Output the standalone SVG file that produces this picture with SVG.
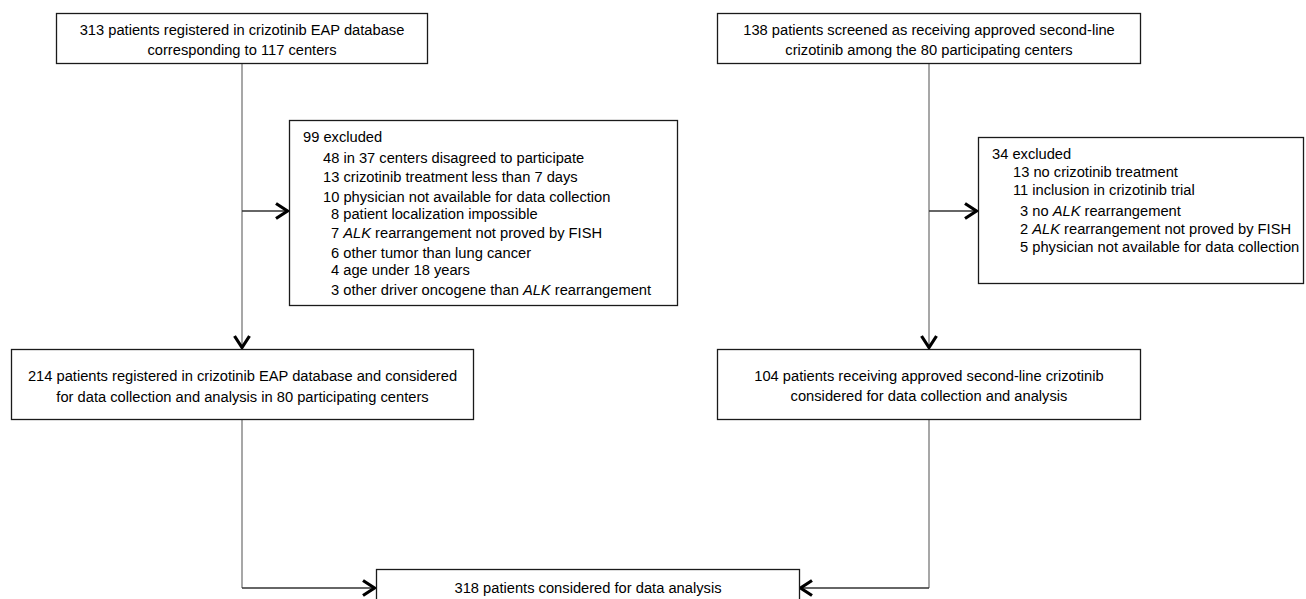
<svg xmlns="http://www.w3.org/2000/svg" width="1306" height="599" viewBox="0 0 1306 599">
<style>
.box{fill:#fff;stroke:#1a1a1a;stroke-width:1.3}
text{font-family:"Liberation Sans",Arial,sans-serif;font-size:14.7px;fill:#000}
.c{text-anchor:middle}
.i{font-style:italic}
.v{fill:none;stroke:#8a8a8a;stroke-width:1.5}
.h{fill:none;stroke:#333;stroke-width:1.5}
</style>
<defs>
<marker id="arr" markerUnits="userSpaceOnUse" markerWidth="16" markerHeight="20" viewBox="0 0 16 20" refX="14" refY="10" orient="auto">
<path d="M2,2.5 L13.5,10 L2,17.5" fill="none" stroke="#000" stroke-width="3.2" stroke-linejoin="miter"/>
</marker>
</defs>
<rect width="1306" height="599" fill="#fff"/>
<g id="connectors">
<path class="v" d="M242,63 V348" marker-end="url(#arr)"/>
<path class="h" d="M242,211 H288" marker-end="url(#arr)"/>
<path class="v" d="M929,63 V348" marker-end="url(#arr)"/>
<path class="h" d="M929,211 H977" marker-end="url(#arr)"/>
<path class="v" d="M242,420 V588"/>
<path class="h" d="M242,588 H375" marker-end="url(#arr)"/>
<path class="v" d="M929,420 V588"/>
<path class="h" d="M929,588 H800" marker-end="url(#arr)"/>
</g>
<g id="n313">
<rect class="box" x="56.5" y="13.5" width="371" height="50"/>
<text class="c" x="242" y="35">313 patients registered in crizotinib EAP database</text>
<text class="c" x="242" y="55">corresponding to 117 centers</text>
</g>
<g id="n138">
<rect class="box" x="717.5" y="13.5" width="423" height="50"/>
<text class="c" x="929" y="35">138 patients screened as receiving approved second-line</text>
<text class="c" x="929" y="55">crizotinib among the 80 participating centers</text>
</g>
<g id="n99">
<rect class="box" x="289.5" y="120.5" width="388" height="185"/>
<text x="303" y="142">99 excluded</text>
<text x="323" y="163">48 in 37 centers disagreed to participate</text>
<text x="323" y="182">13 crizotinib treatment less than 7 days</text>
<text x="323" y="202">10 physician not available for data collection</text>
<text x="331" y="219">8 patient localization impossible</text>
<text x="331" y="238">7 <tspan class="i">ALK</tspan> rearrangement not proved by FISH</text>
<text x="331" y="258">6 other tumor than lung cancer</text>
<text x="331" y="275">4 age under 18 years</text>
<text x="331" y="295">3 other driver oncogene than <tspan class="i">ALK</tspan> rearrangement</text>
</g>
<g id="n34">
<rect class="box" x="978.5" y="137.5" width="325" height="146"/>
<text x="992" y="159">34 excluded</text>
<text x="1013" y="177">13 no crizotinib treatment</text>
<text x="1013" y="195">11 inclusion in crizotinib trial</text>
<text x="1020" y="216">3 no <tspan class="i">ALK</tspan> rearrangement</text>
<text x="1020" y="234">2 <tspan class="i">ALK</tspan> rearrangement not proved by FISH</text>
<text x="1020" y="252">5 physician not available for data collection</text>
</g>
<g id="n214">
<rect class="box" x="11.5" y="349.5" width="462" height="70"/>
<text class="c" x="242.5" y="381">214 patients registered in crizotinib EAP database and considered</text>
<text class="c" x="242.5" y="402">for data collection and analysis in 80 participating centers</text>
</g>
<g id="n104">
<rect class="box" x="717.5" y="349.5" width="423" height="70"/>
<text class="c" x="929" y="381">104 patients receiving approved second-line crizotinib</text>
<text class="c" x="929" y="401">considered for data collection and analysis</text>
</g>
<g id="n318">
<rect class="box" x="376.5" y="569.5" width="423" height="40"/>
<text class="c" x="588" y="593">318 patients considered for data analysis</text>
</g>
</svg>
